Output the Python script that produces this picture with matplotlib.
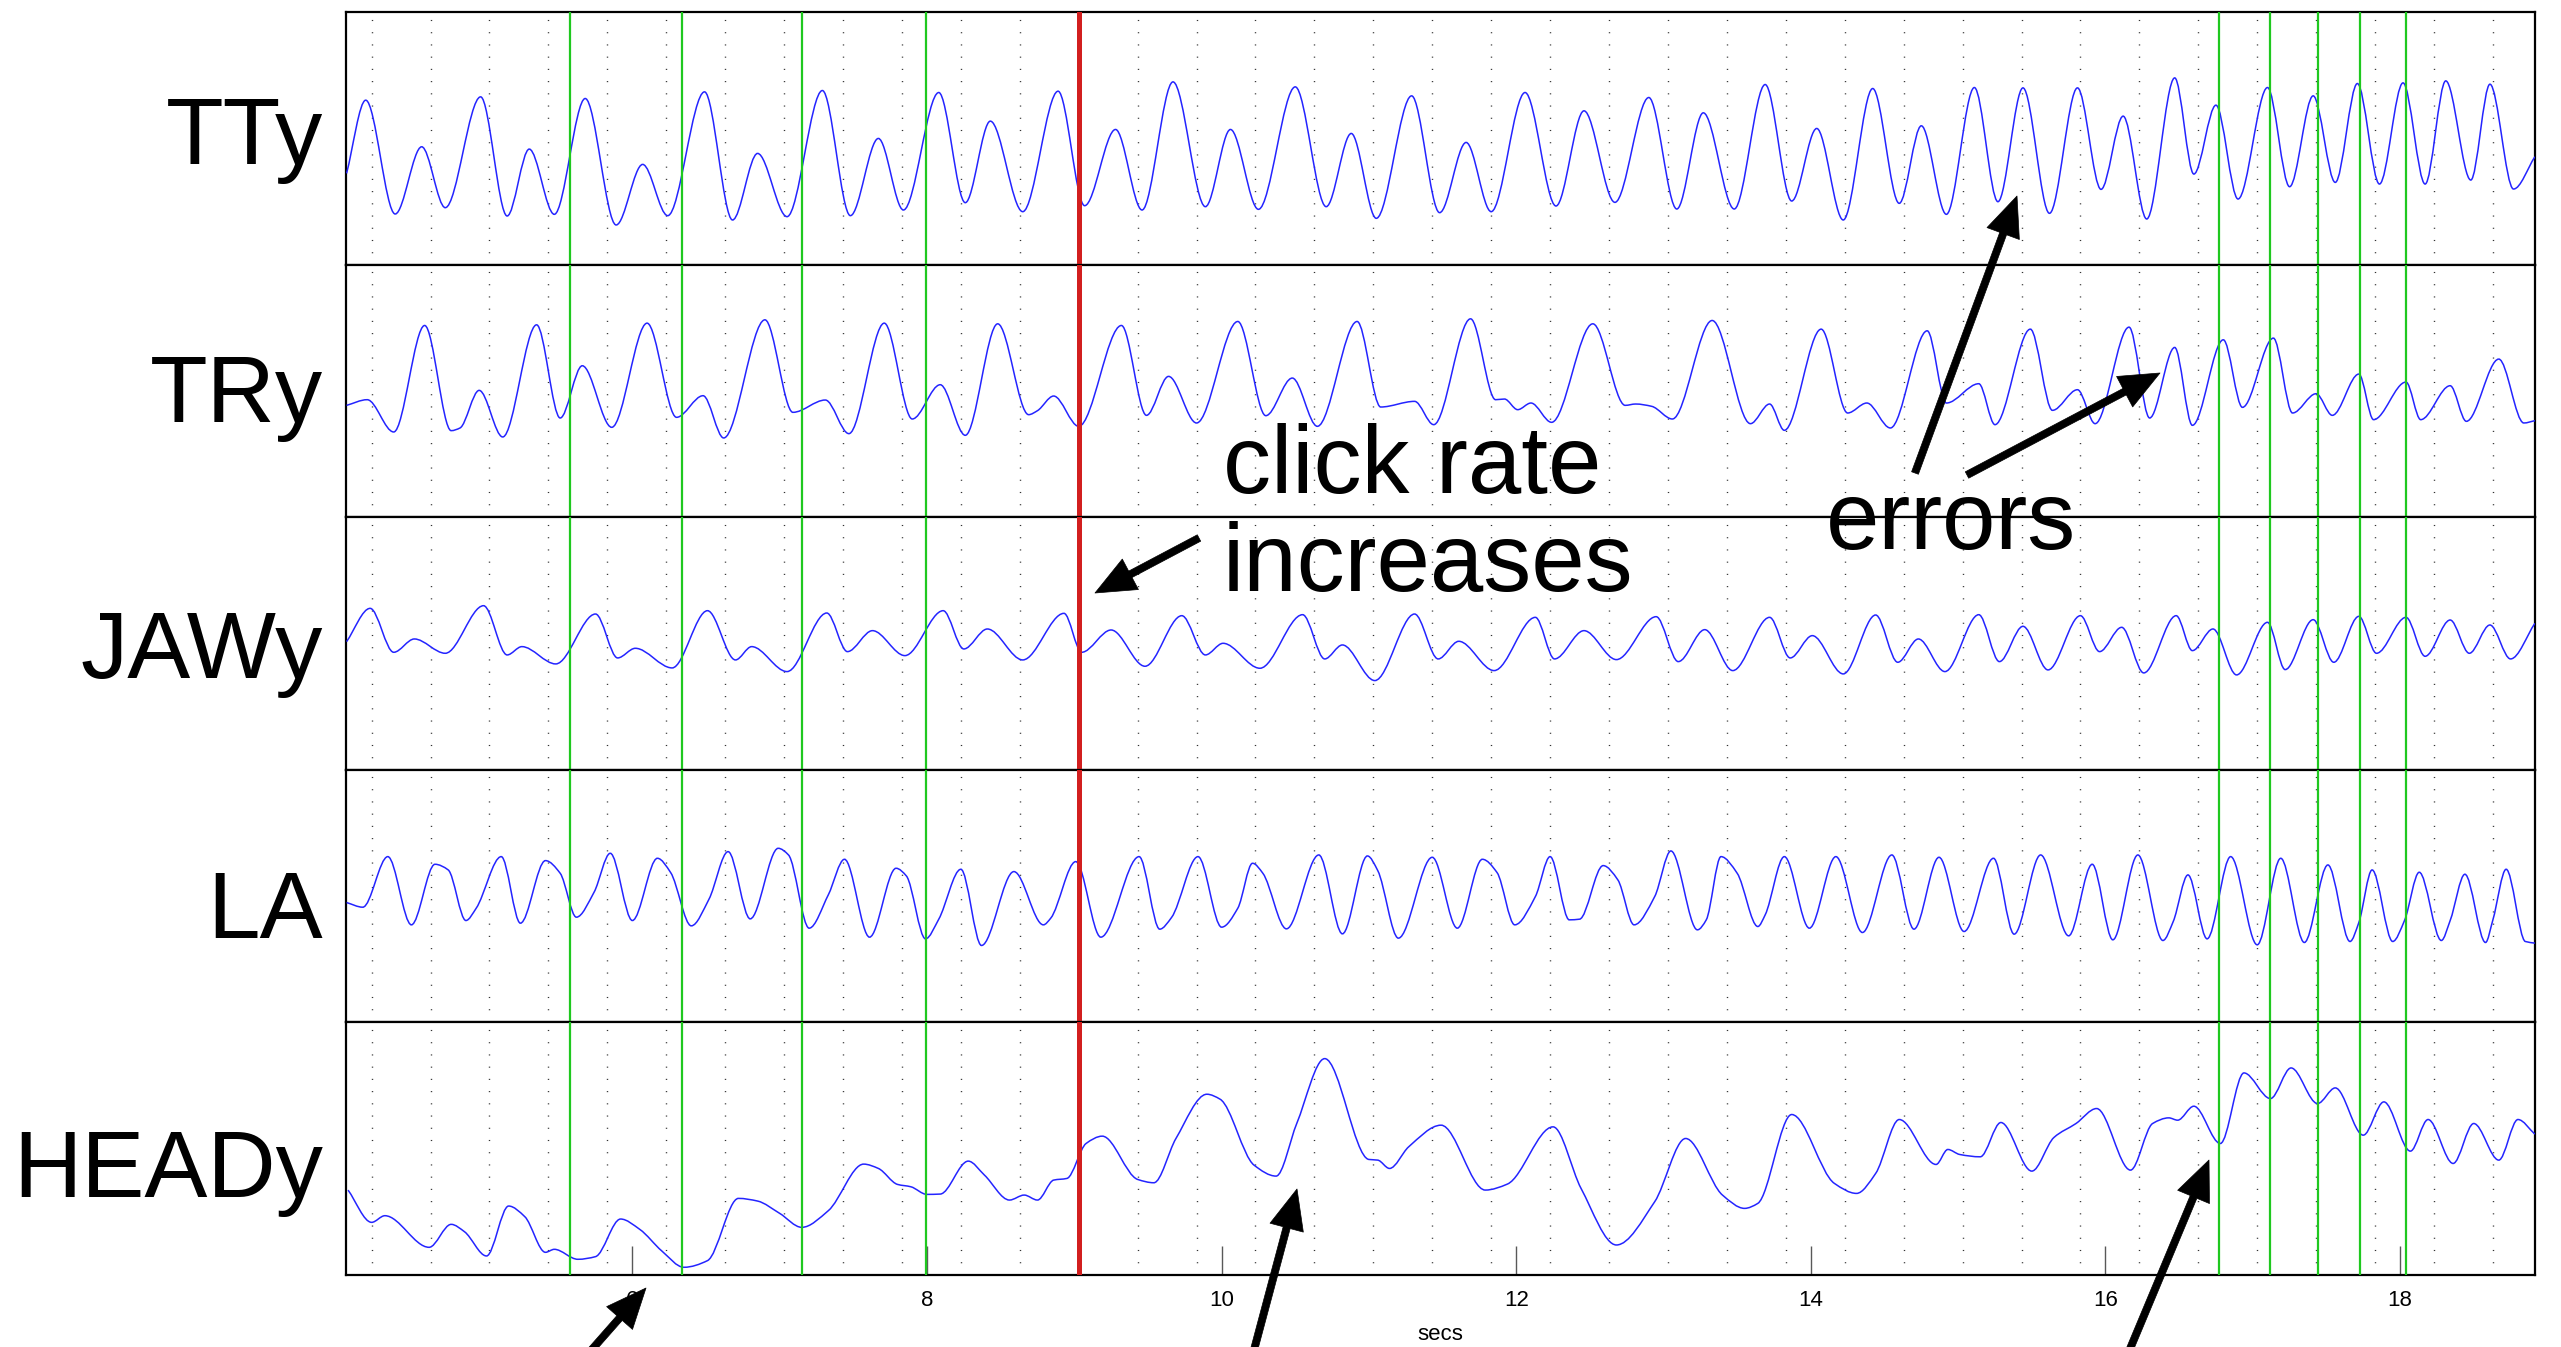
import numpy as np
import matplotlib
matplotlib.use("Agg")
import matplotlib.pyplot as plt
from matplotlib.path import Path
from matplotlib.patches import PathPatch, FancyArrowPatch
from matplotlib.transforms import IdentityTransform

plt.rcParams['font.family'] = ['Liberation Sans', 'DejaVu Sans']

channels = ["TTy", "TRy", "JAWy", "LA", "HEADy"]

# turning points: time (secs) and position (panel units)
tty_t = [4.06, 4.19, 4.39, 4.57, 4.73, 4.97, 5.15, 5.30, 5.47, 5.68,
         5.89, 6.07, 6.24, 6.49, 6.68, 6.85, 7.05, 7.29, 7.48, 7.67,
         7.84, 8.08, 8.26, 8.43, 8.65, 8.89, 9.07, 9.28, 9.46, 9.67,
         9.89, 10.06, 10.25, 10.50, 10.71, 10.88, 11.05, 11.29, 11.48, 11.66,
         11.83, 12.06, 12.27, 12.46, 12.67, 12.90, 13.09, 13.27, 13.48, 13.69,
         13.87, 14.04, 14.22, 14.42, 14.60, 14.75, 14.92, 15.11, 15.27, 15.44,
         15.62, 15.81, 15.97, 16.12, 16.28, 16.47, 16.60, 16.75, 16.90, 17.10,
         17.25, 17.41, 17.56, 17.71, 17.86, 18.02, 18.17, 18.31, 18.48, 18.61,
         18.77, 18.915]
tty_v = [27.4, 49.4, 15.2, 35.4, 17.1, 50.4, 14.6, 34.7, 15.1, 49.9,
         11.9, 30.1, 14.7, 51.9, 13.4, 33.4, 14.4, 52.3, 14.7, 37.9,
         16.4, 51.7, 18.6, 43.1, 15.9, 52.1, 17.7, 40.6, 16.4, 54.9,
         17.4, 40.6, 16.6, 53.4, 17.4, 39.4, 13.9, 50.7, 15.6, 36.7,
         15.9, 51.7, 17.6, 46.2, 18.7, 50.2, 16.7, 45.6, 16.7, 54.1,
         19.1, 40.9, 13.4, 52.9, 18.4, 41.7, 15.1, 53.2, 18.9, 53.1,
         15.4, 53.1, 22.6, 44.6, 13.7, 56.1, 27.2, 47.9, 19.7, 53.2,
         23.4, 50.7, 24.7, 54.4, 24.2, 54.6, 24.2, 55.2, 25.4, 54.2,
         22.7, 32.4]

try_t = [4.06, 4.20, 4.38, 4.59, 4.77, 4.83, 4.96, 5.12, 5.35, 5.51,
         5.66, 5.86, 6.10, 6.30, 6.48, 6.62, 6.90, 7.09, 7.31, 7.47,
         7.71, 7.90, 8.09, 8.26, 8.48, 8.69, 8.75, 8.86, 9.03, 9.32,
         9.49, 9.64, 9.83, 10.11, 10.30, 10.48, 10.65, 10.92, 11.08, 11.31,
         11.44, 11.69, 11.86, 11.92, 12.01, 12.10, 12.24, 12.52, 12.74, 12.81,
         12.92, 13.06, 13.33, 13.59, 13.72, 13.82, 14.07, 14.25, 14.38, 14.54,
         14.79, 14.92, 15.14, 15.25, 15.49, 15.64, 15.81, 15.93, 16.16, 16.30,
         16.47, 16.59, 16.80, 16.93, 17.14, 17.27, 17.43, 17.54, 17.72, 17.82,
         18.04, 18.14, 18.34, 18.45, 18.67, 18.84, 18.915]
try_v = [33.6, 35.3, 25.6, 57.6, 26.0, 26.8, 38.1, 24.1, 57.8, 29.8,
         45.5, 27.0, 58.3, 30.0, 36.5, 23.8, 59.3, 31.5, 35.2, 25.1,
         58.3, 29.5, 39.8, 24.6, 58.1, 30.8, 32.0, 36.4, 27.3, 57.6,
         30.6, 42.3, 28.3, 58.8, 30.5, 41.8, 27.3, 58.8, 33.1, 34.8,
         27.8, 59.6, 35.3, 35.5, 32.3, 34.3, 28.5, 58.1, 33.6, 34.0,
         33.3, 29.5, 59.1, 28.1, 34.0, 26.1, 56.5, 31.3, 34.3, 26.8,
         56.0, 34.3, 40.1, 27.8, 56.5, 32.1, 38.3, 28.1, 57.1, 29.8,
         51.0, 27.6, 53.3, 33.0, 53.8, 31.3, 37.1, 30.6, 43.0, 29.3,
         40.6, 29.3, 39.5, 28.8, 47.5, 28.3, 29.0]

jaw_t = [4.06, 4.22, 4.38, 4.52, 4.73, 4.99, 5.15, 5.25, 5.48, 5.75,
         5.90, 6.02, 6.27, 6.51, 6.70, 6.81, 7.05, 7.32, 7.46, 7.63,
         7.85, 8.11, 8.25, 8.41, 8.65, 8.93, 9.05, 9.25, 9.48, 9.73,
         9.89, 10.01, 10.26, 10.55, 10.70, 10.82, 11.04, 11.31, 11.47, 11.61,
         11.85, 12.13, 12.26, 12.46, 12.68, 12.95, 13.10, 13.28, 13.47, 13.72,
         13.86, 14.01, 14.22, 14.44, 14.59, 14.73, 14.91, 15.14, 15.28, 15.44,
         15.61, 15.83, 15.96, 16.11, 16.26, 16.48, 16.59, 16.73, 16.89, 17.10,
         17.22, 17.41, 17.55, 17.72, 17.84, 18.04, 18.17, 18.34, 18.47, 18.61,
         18.75, 18.915]
jaw_v = [38.5, 48.5, 35.3, 39.3, 35.0, 49.3, 34.5, 37.0, 31.8, 46.8,
         33.6, 36.5, 30.6, 47.8, 33.0, 37.0, 29.5, 47.1, 35.5, 41.8,
         34.3, 47.8, 36.3, 42.3, 33.0, 47.0, 35.3, 42.0, 31.1, 46.3,
         34.5, 38.0, 30.5, 46.6, 33.3, 37.5, 26.8, 46.8, 33.3, 38.6,
         29.8, 45.8, 33.3, 41.8, 33.1, 46.0, 32.5, 42.1, 29.8, 45.8,
         33.6, 40.3, 28.8, 46.5, 32.3, 39.3, 29.5, 46.6, 32.5, 43.1,
         30.0, 46.3, 35.5, 42.8, 29.1, 46.3, 35.8, 42.3, 28.5, 44.3,
         30.1, 45.1, 32.3, 46.1, 35.0, 45.8, 34.1, 45.0, 35.0, 43.5,
         33.3, 44.0]

la_t = [4.06, 4.17, 4.34, 4.50, 4.66, 4.75, 4.87, 4.94, 5.11, 5.24,
        5.41, 5.51, 5.62, 5.74, 5.85, 6.00, 6.17, 6.26, 6.40, 6.52,
        6.65, 6.80, 6.99, 7.06, 7.20, 7.33, 7.44, 7.61, 7.79, 7.86,
        7.99, 8.08, 8.23, 8.37, 8.59, 8.79, 8.84, 9.01, 9.18, 9.44,
        9.58, 9.66, 9.84, 10.00, 10.11, 10.21, 10.28, 10.44, 10.66, 10.82,
        10.99, 11.06, 11.20, 11.43, 11.60, 11.77, 11.87, 11.99, 12.13, 12.23,
        12.36, 12.43, 12.59, 12.69, 12.80, 12.94, 13.05, 13.23, 13.29, 13.39,
        13.50, 13.64, 13.69, 13.82, 13.99, 14.17, 14.35, 14.55, 14.70, 14.87,
        15.04, 15.24, 15.38, 15.56, 15.75, 15.91, 16.05, 16.22, 16.39, 16.46,
        16.56, 16.69, 16.85, 17.03, 17.19, 17.35, 17.51, 17.66, 17.72, 17.81,
        17.95, 18.03, 18.13, 18.28, 18.34, 18.44, 18.58, 18.63, 18.72, 18.85,
        18.915]
la_v = [36.0, 34.6, 49.8, 29.3, 47.5, 45.8, 30.6, 34.3, 49.8, 29.8,
        48.6, 44.8, 31.6, 39.1, 50.8, 30.6, 49.3, 45.0, 29.0, 37.0,
        51.3, 31.1, 52.3, 50.3, 28.3, 38.3, 49.0, 25.6, 46.3, 44.0,
        25.1, 31.0, 46.0, 23.1, 45.3, 29.3, 31.3, 48.3, 25.6, 49.8,
        28.0, 31.5, 49.8, 28.6, 34.3, 47.8, 44.8, 28.1, 50.3, 26.6,
        50.0, 45.6, 25.3, 49.6, 28.3, 49.0, 45.0, 29.3, 37.8, 49.8,
        30.8, 31.0, 47.1, 42.8, 29.3, 37.8, 51.5, 27.8, 30.8, 49.8,
        44.8, 28.8, 32.3, 49.8, 28.3, 49.8, 27.0, 50.3, 28.0, 49.6,
        27.3, 49.3, 26.5, 50.3, 26.0, 47.5, 24.8, 50.3, 24.6, 30.3,
        44.3, 25.1, 49.8, 23.3, 49.3, 24.0, 47.3, 24.3, 30.0, 45.8,
        24.3, 30.6, 45.1, 24.6, 30.6, 44.5, 24.0, 30.8, 46.0, 24.3,
        23.8]

head_t = [4.07, 4.23, 4.32, 4.62, 4.77, 4.86, 5.01, 5.16, 5.27, 5.41,
          5.47, 5.63, 5.75, 5.92, 6.05, 6.20, 6.35, 6.51, 6.72, 6.85,
          7.00, 7.15, 7.33, 7.57, 7.67, 7.80, 7.89, 8.00, 8.09, 8.28,
          8.39, 8.56, 8.66, 8.75, 8.86, 8.95, 9.08, 9.19, 9.43, 9.54,
          9.69, 9.90, 9.99, 10.22, 10.37, 10.51, 10.70, 11.00, 11.06, 11.14,
          11.27, 11.49, 11.79, 11.94, 12.25, 12.44, 12.68, 12.94, 13.15, 13.40,
          13.55, 13.64, 13.87, 14.16, 14.31, 14.44, 14.60, 14.85, 14.93, 15.01,
          15.15, 15.29, 15.50, 15.65, 15.80, 15.94, 16.17, 16.32, 16.43, 16.49,
          16.60, 16.78, 16.94, 17.12, 17.26, 17.44, 17.56, 17.75, 17.89, 18.07,
          18.19, 18.36, 18.50, 18.67, 18.80, 18.915]
head_v = [25.5, 15.8, 17.8, 8.3, 15.2, 13.0, 5.7, 20.7, 17.5, 6.8,
          7.7, 4.7, 5.5, 16.8, 13.7, 7.2, 2.3, 4.3, 23.0, 22.2,
          18.5, 14.3, 19.3, 33.3, 32.0, 27.2, 26.5, 24.2, 24.3, 34.2,
          30.0, 22.5, 24.0, 22.5, 28.5, 29.0, 39.5, 41.7, 28.7, 27.7,
          41.0, 54.3, 52.8, 33.0, 29.7, 45.5, 65.0, 34.7, 34.5, 32.0,
          38.5, 45.0, 25.5, 27.3, 44.5, 26.0, 9.0, 22.0, 41.0, 24.0,
          20.0, 21.5, 48.2, 27.5, 24.5, 30.5, 46.7, 33.2, 37.7, 36.2,
          35.5, 45.8, 31.2, 41.3, 45.5, 50.0, 31.5, 45.5, 47.2, 46.5,
          50.7, 39.5, 60.7, 53.0, 62.2, 51.5, 56.2, 42.0, 52.0, 37.2,
          46.7, 33.5, 45.5, 34.5, 46.7, 42.3]

traces = [(tty_t, tty_v), (try_t, try_v), (jaw_t, jaw_v), (la_t, la_v), (head_t, head_v)]

# click times (green) and the moment the click rate changes (red)
click_t = [5.58, 6.34, 7.15, 7.99, 16.77, 17.12, 17.44, 17.73, 18.04]
rate_change_t = 9.03
xticks = [6, 8, 10, 12, 14, 16, 18]
label_base = [0.40, 0.375, 0.365, 0.335, 0.31]

W, H = 2561, 1347


def smooth_path(t, v):
    # monotone cubic through the turning points, drawn as bezier segments
    t = np.asarray(t, float)
    v = np.asarray(v, float)
    h = np.diff(t)
    d = np.diff(v) / h
    m = np.zeros_like(v)
    m[0], m[-1] = d[0], d[-1]
    for k in range(1, len(v) - 1):
        if d[k - 1] * d[k] > 0:
            w1 = 2 * h[k] + h[k - 1]
            w2 = h[k] + 2 * h[k - 1]
            m[k] = (w1 + w2) / (w1 / d[k - 1] + w2 / d[k])
    verts = [(t[0], v[0])]
    codes = [Path.MOVETO]
    for i in range(len(h)):
        verts.append((t[i] + h[i] / 3, v[i] + m[i] * h[i] / 3))
        verts.append((t[i + 1] - h[i] / 3, v[i + 1] - m[i + 1] * h[i] / 3))
        verts.append((t[i + 1], v[i + 1]))
        codes += [Path.CURVE4] * 3
    return Path(verts, codes)


def px(x, y):
    # position measured from the top-left corner, in figure pixels
    return (x, H - y)


fig, axes = plt.subplots(5, 1, figsize=(W / 100, H / 100), dpi=100, sharex=True)
fig.subplots_adjust(left=0.1351, right=0.9898, bottom=0.0535, top=0.9911, hspace=0)

grid_x = np.arange(4.23, 18.9, 0.4)

for ax, name, (t, v), yb in zip(axes, channels, traces, label_base):
    ax.set_xlim(4.056, 18.915)
    ax.set_ylim(0, 75.9)
    ax.set_yticks([])
    for s in ax.spines.values():
        s.set_linewidth(1.6)
        s.set_color('black')
    for gx in grid_x:
        ax.axvline(gx, color='0.2', lw=1.0, ls=(0, (0.8, 8)), zorder=1)
    ax.add_patch(PathPatch(smooth_path(t, v), fill=False, ec='#2424ff', lw=1.1, zorder=3))
    for ct in click_t:
        ax.axvline(ct, color='#1fc81f', lw=1.6, zorder=4)
    ax.axvline(rate_change_t, color='#d21f1f', lw=3.6, zorder=5)
    ax.text(-0.0105, yb, name, transform=ax.transAxes, ha='right', va='baseline', fontsize=68)
    ax.tick_params(axis='x', length=0, labelbottom=False)

bottom = axes[-1]
bottom.set_xticks(xticks)
bottom.set_xticklabels([str(x) for x in xticks])
bottom.tick_params(axis='x', direction='in', length=21, width=1.0, color='0.35',
                   labelsize=16, pad=11, labelbottom=True)
bottom.set_xlabel("secs", fontsize=16, labelpad=9)

# annotations (multi-line text is anchored on the baseline of its last line)
fig.text(1223, H - 591, "click rate\nincreases", transform=IdentityTransform(),
         fontsize=69, va='baseline', linespacing=1.12)
fig.text(1826, H - 549, "errors", transform=IdentityTransform(), fontsize=69, va='baseline')

arrows = [
    ((1199, 538), (1095, 593)),
    ((1915, 473), (2017, 196)),
    ((1967, 475), (2160, 373)),
    ((565, 1380), (646, 1288)),
    ((1246, 1380), (1297, 1189)),
    ((2117, 1380), (2209, 1160)),
]
for tail, tip in arrows:
    arrow = FancyArrowPatch(px(*tail), px(*tip), transform=IdentityTransform(),
                            arrowstyle='simple,head_length=0.72,head_width=0.62,tail_width=0.13',
                            fc='black', ec='black', lw=0.5, mutation_scale=40,
                            shrinkA=0, shrinkB=0, zorder=6)
    fig.add_artist(arrow)

fig.savefig("out.png", dpi=100)
